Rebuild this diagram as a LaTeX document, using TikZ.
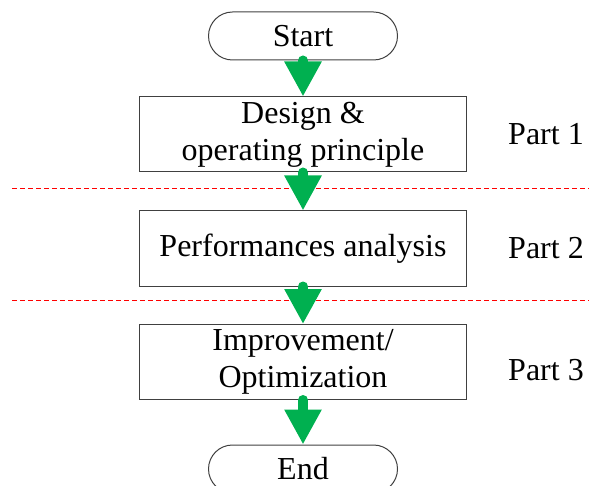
\documentclass[tikz,border=0pt]{standalone}
\usepackage{fontspec}
\setmainfont{Liberation Serif}
\usetikzlibrary{arrows.meta}
\definecolor{flowgreen}{RGB}{0,176,80}

\begin{document}
\begin{tikzpicture}[x=1bp,y=-1bp,font=\fontsize{32bp}{37bp}\selectfont,
  process box/.style={draw=black!75,line width=1bp,minimum width=327bp,minimum height=75bp,inner sep=0pt,align=center},
  terminal box/.style={draw=black!75,line width=1bp,rounded corners=24bp,minimum width=189bp,minimum height=48bp,inner sep=0pt}]
\tikzstyle{flow arrow} = [draw=flowgreen,line width=10bp,line cap=round,-{Triangle[width=35bp,length=35bp]}]
\tikzstyle{part line} = [draw=red,line width=1bp,dash pattern=on 5bp off 3bp]

\clip (0,0) rectangle (589,486);

\coordinate (leftA) at (12,188.5);
\coordinate (rightA) at (589,188.5);
\coordinate (leftB) at (12,300.5);
\coordinate (rightB) at (589,300.5);
\draw[part line] (leftA) -- (rightA);
\draw[part line] (leftB) -- (rightB);

\node[terminal box] (start) at (303,36) {Start};
\node[process box] (design) at (303,134.5) {Design \&\\operating principle};
\node[process box] (perf) at (303,248.5) {Performances analysis};
\node[process box] (improve) at (303,362) {Improvement/\\Optimization};
\node[terminal box] (end) at (303,469) {End};

\draw[flow arrow] (start.south) -- (design.north);
\draw[flow arrow] (design.south) -- (perf.north);
\draw[flow arrow] (perf.south) -- (improve.north);
\draw[flow arrow] (improve.south) -- (end.north);

% Parts
\node (part1) at (546,134) {Part 1};
\node (part2) at (546,248) {Part 2};
\node (part3) at (546,370) {Part 3};

\end{tikzpicture}
\end{document}
